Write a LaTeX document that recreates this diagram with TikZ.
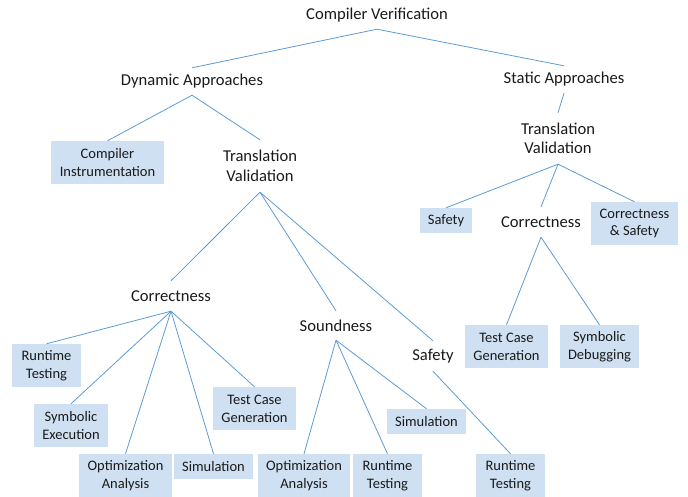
\documentclass[tikz,border=0pt]{standalone}
\usepackage{fontspec}
\setmainfont{Carlito}
\definecolor{boxfill}{HTML}{CFE0F2}
\definecolor{linecol}{HTML}{5B9BD5}
\definecolor{txt}{HTML}{1A1A1A}
\begin{document}
\begin{tikzpicture}[x=1pt,y=-1pt,
  every node/.style={text=txt, align=center, inner sep=0pt},
  plain/.style={font=\fontsize{16.6}{19.5}\selectfont, minimum height=#1},
  leaf/.style args={#1/#2}{font=\fontsize{14.5}{17.8}\selectfont, fill=boxfill, minimum width=#1, minimum height=#2},
  conn/.style={draw=linecol, line width=0.8pt}]
\useasboundingbox (0,0) rectangle (688,497);
% plain (unboxed) nodes
\node[plain=28pt] (root) at (377,15) {Compiler Verification};
\node[plain=27pt] (dyn) at (192,81.5) {Dynamic Approaches};
\node[plain=52pt] (tvd) at (260,166) {Translation\\Validation};
\node[plain=30pt] (corrd) at (171,296) {Correctness};
\node[plain=29pt] (sound) at (336,325.5) {Soundness};
\node[plain=30pt] (safed) at (433,356) {Safety};
\node[plain=27pt] (stat) at (564,79.5) {Static Approaches};
\node[plain=51pt] (tvs) at (558,138.5) {Translation\\Validation};
\node[plain=30pt] (corrs) at (541,222) {Correctness};
% boxed leaves
\node[leaf=113pt/43pt] (ci) at (107.5,162.5) {Compiler\\Instrumentation};
\node[leaf=69pt/43pt] (rt1) at (46.5,365.5) {Runtime\\Testing};
\node[leaf=74pt/43pt] (se) at (71,425.5) {Symbolic\\Execution};
\node[leaf=93pt/43pt] (oa1) at (125.5,475.5) {Optimization\\Analysis};
\node[leaf=79pt/25pt] (sim1) at (213.5,466.5) {Simulation};
\node[leaf=83pt/43pt] (tcg1) at (254.5,408.5) {Test Case\\Generation};
\node[leaf=92pt/43pt] (oa2) at (304,475.5) {Optimization\\Analysis};
\node[leaf=69pt/43pt] (rt2) at (387.5,475.5) {Runtime\\Testing};
\node[leaf=79pt/25pt] (sim2) at (426.5,421.5) {Simulation};
\node[leaf=69pt/43pt] (rt3) at (510.5,475.5) {Runtime\\Testing};
\node[leaf=52pt/25pt] (safs) at (446,220.5) {Safety};
\node[leaf=87pt/43pt] (cs) at (634.5,223.5) {Correctness\\\& Safety};
\node[leaf=83pt/43pt] (tcg2) at (506.5,346.5) {Test Case\\Generation};
\node[leaf=79pt/43pt] (sd) at (599.5,346.5) {Symbolic\\Debugging};
% connectors
\draw[conn] (root.south) -- (dyn.north);
\draw[conn] (root.south) -- (stat.north);
\draw[conn] (dyn.south) -- (ci.north);
\draw[conn] (dyn.south) -- (tvd.north);
\draw[conn] (tvd.south) -- (corrd.north);
\draw[conn] (tvd.south) -- (sound.north);
\draw[conn] (tvd.south) -- (safed.north);
\draw[conn] (corrd.south) -- (rt1.north);
\draw[conn] (corrd.south) -- (se.north);
\draw[conn] (corrd.south) -- (oa1.north);
\draw[conn] (corrd.south) -- (sim1.north);
\draw[conn] (corrd.south) -- (tcg1.north);
\draw[conn] (sound.south) -- (oa2.north);
\draw[conn] (sound.south) -- (rt2.north);
\draw[conn] (sound.south) -- (sim2.north);
\draw[conn] (safed.south) -- (rt3.north);
\draw[conn] (stat.south) -- (tvs.north);
\draw[conn] (tvs.south) -- (safs.north);
\draw[conn] (tvs.south) -- (corrs.north);
\draw[conn] (tvs.south) -- (cs.north);
\draw[conn] (corrs.south) -- (tcg2.north);
\draw[conn] (corrs.south) -- (sd.north);
\end{tikzpicture}
\end{document}
